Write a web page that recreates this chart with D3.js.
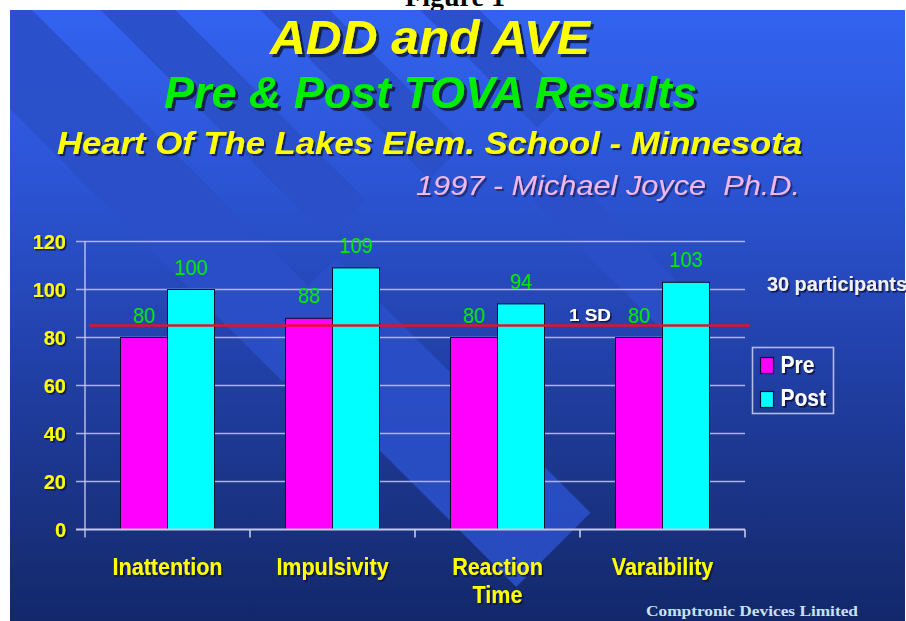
<!DOCTYPE html>
<html>
<head>
<meta charset="utf-8">
<script src="https://cdnjs.cloudflare.com/ajax/libs/d3/7.8.5/d3.min.js"></script>
<style>
  html, body { margin: 0; padding: 0; background: #ffffff; }
  svg { display: block; }
  text { white-space: pre; }
</style>
</head>
<body>
<svg id="chart" width="906" height="621"></svg>
<script>
// ---------------- DATA ----------------
const categories = ["Inattention", "Impulsivity", "Reaction Time", "Varaibility"];
const categoryLabelLines = [["Inattention"], ["Impulsivity"], ["Reaction", "Time"], ["Varaibility"]];
const seriesNames = ["Pre", "Post"];
const preValues = [80, 88, 80, 80];
const postValues = [100, 109, 94, 103];
const yTickValues = [0, 20, 40, 60, 80, 100, 120];
const sdLineValue = 85;
const sdLabel = "1 SD";
const participantsNote = "30 participants";
const titleLines = ["ADD and AVE", "Pre & Post TOVA Results", "Heart Of The Lakes Elem. School - Minnesota", "1997 - Michael Joyce  Ph.D."];
const figureCaption = "Figure 1";
const creditText = "Comptronic Devices Limited";

// ---------------- SETUP ----------------
const svg = d3.select("#chart");
const slide = { x: 10, y: 10, w: 895, h: 611 };
const SANS = "'Liberation Sans', Arial, Helvetica, sans-serif";
const SERIF = "'Liberation Serif', 'Times New Roman', serif";
const colors = { Pre: "#ff00ff", Post: "#00ffff" };

const defs = svg.append("defs");
const grad = defs.append("linearGradient").attr("id", "bg").attr("x1", 0).attr("y1", 0).attr("x2", 0).attr("y2", 1);
[[0, "#3263f0"], [0.3, "#2b53d2"], [0.55, "#2242ac"], [0.8, "#1a3385"], [1, "#13286a"]]
  .forEach(([o, c]) => grad.append("stop").attr("offset", o).attr("stop-color", c));
defs.append("clipPath").attr("id", "slideClip").append("rect")
  .attr("x", slide.x).attr("y", slide.y).attr("width", slide.w).attr("height", slide.h);

// drop-shadow filters
function addShadow(id, d, color, op) {
  const f = defs.append("filter").attr("id", id)
    .attr("x", "-10%").attr("y", "-30%").attr("width", "130%").attr("height", "170%");
  f.append("feDropShadow").attr("dx", d).attr("dy", d).attr("stdDeviation", 0.4)
    .attr("flood-color", color).attr("flood-opacity", op);
}
addShadow("sh3", 3, "#101838", 0.85);
addShadow("sh2", 2, "#101838", 0.8);
addShadow("shPink", 2, "#101838", 0.55);
addShadow("sh1", 1.5, "#0a1030", 0.9);

// Figure caption (mostly hidden under the slide)
svg.append("text").attr("x", 455).attr("y", 6).attr("text-anchor", "middle")
  .attr("font-family", SERIF).attr("font-weight", "bold").attr("font-size", 28)
  .attr("fill", "#000").text(figureCaption);

// Slide background
svg.append("rect").attr("x", slide.x).attr("y", slide.y).attr("width", slide.w).attr("height", slide.h)
  .attr("fill", "url(#bg)");

// Diagonal decorative bands (rotated 45deg): u along band, v across
const bandColor = "#2a4fc8";
const bands = [
  { u1: -400, u2: 470, v1: -15.6, v2: 70 },
  { u1: -400, u2: 400, v1: -117, v2: -64 },
  { u1: -400, u2: 430, v1: -226, v2: -177 },
  { u1: -400, u2: 470, v1: -332, v2: -290 },
  { u1: 420, u2: 780, v1: -55, v2: 50 },
  { u1: 520, u2: 720, v1: -280, v2: -235 }
];
const bandG = svg.append("g").attr("clip-path", "url(#slideClip)")
  .append("g").attr("transform", "rotate(45)");
bandG.selectAll("rect").data(bands).join("rect")
  .attr("x", d => d.u1).attr("y", d => d.v1)
  .attr("width", d => d.u2 - d.u1).attr("height", d => d.v2 - d.v1)
  .attr("fill", bandColor).attr("opacity", 0.9);

// ---------------- TEXT HELPER ----------------
function shadowText(g, x, y, txt, opts) {
  const sy = opts.sy || 1;
  const holder = g.append("g").attr("transform", `translate(${x},${y}) scale(1,${sy})`);
  const t = holder.append("text")
    .attr("x", 0).attr("y", 0)
    .attr("font-family", opts.family || SANS)
    .attr("font-size", opts.size)
    .attr("font-weight", opts.weight || "bold")
    .attr("font-style", opts.style || "normal")
    .attr("text-anchor", opts.anchor || "start")
    .attr("fill", opts.fill)
    .attr("filter", `url(#${opts.filter || "sh1"})`)
    .text(txt);
  if (opts.len) t.attr("textLength", opts.len).attr("lengthAdjust", "spacingAndGlyphs");
  return t;
}

// ---------------- TITLES ----------------
const tg = svg.append("g");
shadowText(tg, 270, 54, titleLines[0], { size: 46, style: "italic", fill: "#ffff00", len: 320, filter: "sh3", sy: 1.05 });
shadowText(tg, 164, 108, titleLines[1], { size: 44, style: "italic", fill: "#00ee00", len: 533, filter: "sh3", sy: 1.02 });
shadowText(tg, 57, 154, titleLines[2], { size: 30, style: "italic", fill: "#ffff00", len: 745, filter: "sh2", sy: 1.06 });
shadowText(tg, 416, 195, titleLines[3], { size: 27, weight: "normal", style: "italic", fill: "#f2b6e8", len: 384, filter: "shPink", sy: 1.05 });

// ---------------- CHART ----------------
const plot = { left: 85, right: 745, top: 241.5, bottom: 529.5 };
const y = d3.scaleLinear().domain([0, 120]).range([plot.bottom, plot.top]);
const x0 = d3.scaleBand().domain(categories).range([plot.left, plot.right]).paddingInner(0).paddingOuter(0);
const x1 = d3.scaleBand().domain(seriesNames).range([0, x0.bandwidth()]).paddingInner(0).paddingOuter(0.755);

const gridColor = "#c3cae8";
const g = svg.append("g");

// gridlines (behind bars), extending left as ticks
g.append("g").selectAll("line").data(yTickValues.filter(v => v > 0)).join("line")
  .attr("x1", plot.left - 9).attr("x2", plot.right)
  .attr("y1", d => y(d)).attr("y2", d => y(d))
  .attr("stroke", gridColor).attr("stroke-width", 1.6).attr("opacity", 0.85);

// Y axis line
g.append("line").attr("x1", plot.left).attr("x2", plot.left)
  .attr("y1", plot.top).attr("y2", plot.bottom + 8)
  .attr("stroke", gridColor).attr("stroke-width", 1.6).attr("opacity", 0.85);

// bars
const rows = categories.map((c, i) => ({ cat: c, values: [{ s: "Pre", v: preValues[i] }, { s: "Post", v: postValues[i] }] }));
const groups = g.append("g").selectAll("g").data(rows).join("g")
  .attr("transform", d => `translate(${x0(d.cat)},0)`);
groups.selectAll("rect").data(d => d.values).join("rect")
  .attr("x", d => x1(d.s)).attr("width", x1.bandwidth())
  .attr("y", d => y(d.v)).attr("height", d => y(0) - y(d.v))
  .attr("fill", d => colors[d.s])
  .attr("stroke", "#0a0f30").attr("stroke-width", 1);

// X axis line & ticks
g.append("line").attr("x1", plot.left - 9).attr("x2", plot.right)
  .attr("y1", y(0)).attr("y2", y(0))
  .attr("stroke", gridColor).attr("stroke-width", 1.8);
const boundaries = categories.map(c => x0(c)).concat([x0(categories[categories.length - 1]) + x0.bandwidth()]);
g.append("g").selectAll("line").data(boundaries.slice(1)).join("line")
  .attr("x1", d => d).attr("x2", d => d)
  .attr("y1", y(0)).attr("y2", y(0) + 8)
  .attr("stroke", gridColor).attr("stroke-width", 1.6);

// SD reference line
g.append("line").attr("x1", plot.left + 4).attr("x2", plot.right + 5)
  .attr("y1", y(sdLineValue)).attr("y2", y(sdLineValue))
  .attr("stroke", "#e8102a").attr("stroke-width", 2.5);

// value labels
groups.each(function (d) {
  const grp = d3.select(this);
  d.values.forEach(v => {
    const t = grp.append("g")
      .attr("transform", `translate(${x1(v.s) + x1.bandwidth() / 2},${y(v.v) - 15}) scale(1,1.08)`);
    t.append("text").attr("text-anchor", "middle")
      .attr("font-family", SANS).attr("font-size", 20)
      .attr("fill", "#00e600").text(v.v);
  });
});

// Y tick labels
yTickValues.forEach(v => {
  shadowText(g, 66, y(v) + 7, String(v), { size: 20, fill: "#ffff00", anchor: "end" });
});

// X category labels
categories.forEach((c, i) => {
  const cx = x0(c) + x0.bandwidth() / 2;
  categoryLabelLines[i].forEach((line, j) => {
    shadowText(g, cx, 575 + j * 28, line, { size: 21.5, fill: "#ffff00", anchor: "middle", sy: 1.12 });
  });
});

// 1 SD label and participants note
shadowText(g, 569, 321, sdLabel, { size: 17, fill: "#ffffff", len: 42 });
shadowText(g, 767, 291, participantsNote, { size: 18.5, fill: "#f0f0f8", len: 140, sy: 1.1 });

// Legend
const lg = g.append("g").attr("transform", "translate(752.5,347.5)");
lg.append("rect").attr("width", 81).attr("height", 66)
  .attr("fill", "none").attr("stroke", "#b4bce0").attr("stroke-width", 1.6);
seriesNames.forEach((s, i) => {
  lg.append("rect").attr("x", 8).attr("y", 10 + i * 34).attr("width", 13).attr("height", 16)
    .attr("fill", colors[s]).attr("stroke", "#0a0f30").attr("stroke-width", 1.2);
  shadowText(lg, 28, 25.5 + i * 33, s, { size: 21, fill: "#ffffff", sy: 1.1 });
});

// Credit
svg.append("text").attr("x", 646).attr("y", 616)
  .attr("font-family", SERIF).attr("font-weight", "bold").attr("font-size", 15)
  .attr("fill", "#c6e2f2").attr("textLength", 212).attr("lengthAdjust", "spacingAndGlyphs")
  .text(creditText);
</script>
</body>
</html>
